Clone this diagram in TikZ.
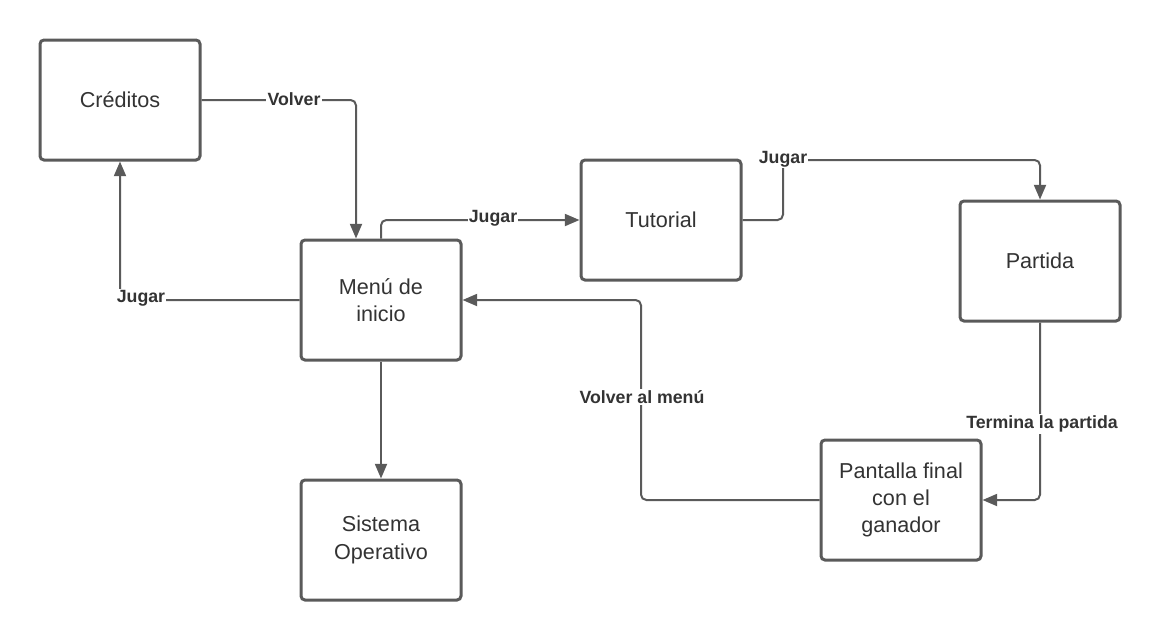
\documentclass[tikz,border=0pt]{standalone}
\usepackage{fontspec}
\setmainfont{Liberation Sans}
\usetikzlibrary{arrows.meta}
\definecolor{ln}{HTML}{5A5A5A}
\definecolor{tx}{HTML}{333333}
\tikzset{
  box/.style={draw=ln, line width=2.25pt, rounded corners=3pt, fill=white,
    minimum width=120pt, minimum height=90pt, align=center, text=tx,
    font=\fontsize{16.2}{20.5}\selectfont},
  lbl/.style={fill=white, inner sep=1pt, text=tx, font=\bfseries\fontsize{13.3}{15}\selectfont},
  conn/.style={draw=ln, line width=1.5pt, rounded corners=4pt,
    -{Triangle[length=11pt,width=9pt]}}
}
\begin{document}
\begin{tikzpicture}[x=0.75pt,y=-0.75pt]
\useasboundingbox (0,0) rectangle (1160,640);
\node[box] (cred) at (120,100) {Créditos};
\node[box] (menu) at (381,300) {Menú de\\inicio};
\node[box] (so) at (381,540) {Sistema\\Operativo};
\node[box] (tut) at (661,220) {Tutorial};
\node[box] (part) at (1040,261) {Partida};
\node[box] (fin) at (901,500) {Pantalla final\\con el\\ganador};

\coordinate (c1) at (356,100);
\coordinate (c4a) at (783,220);
\coordinate (c4b) at (783,160);
\coordinate (c6) at (641,500);

\draw[conn] (cred.east) -- (c1) -- (c1 |- menu.north);
\draw[conn] (menu.north) |- (tut.west);
\draw[conn] (menu.west) -| (cred.south);
\draw[conn] (tut.east) -- (c4a) -- (c4b) -| (part.north);
\draw[conn] (part.south) |- (fin.east);
\draw[conn] (fin.west) -- (c6) |- (menu.east);
\draw[conn] (menu.south) -- (so.north);

\node[lbl] (l1) at (294,99) {Volver};
\node[lbl] (l2) at (493,218) {Jugar};
\node[lbl] (l3) at (141,298) {Jugar};
\node[lbl] (l4) at (783,159) {Jugar};
\node[lbl] (l5) at (1042,424) {Termina la partida};
\node[lbl] (l6) at (642,397) {Volver al menú};
\end{tikzpicture}
\end{document}
